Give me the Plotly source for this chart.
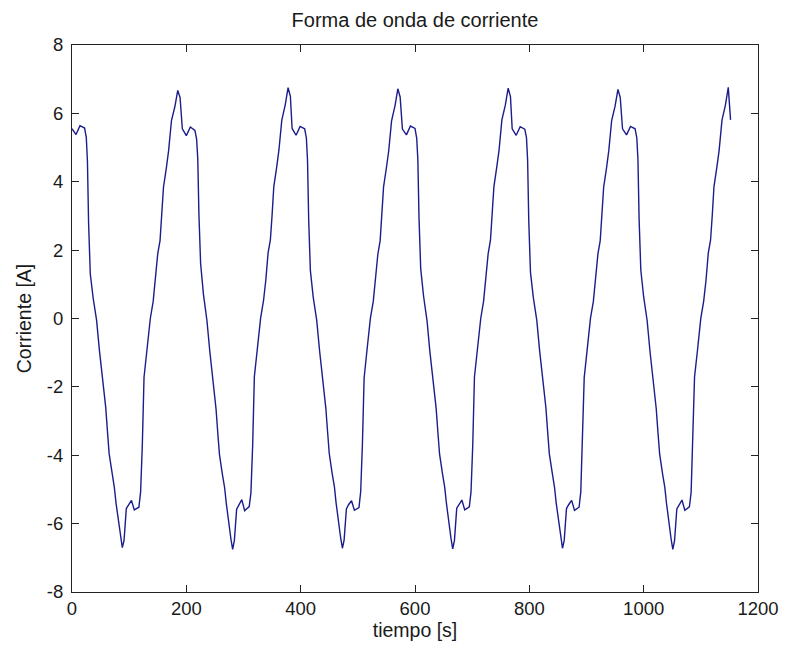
import plotly.graph_objects as go

time_s = [
    0, 7, 14, 22, 25, 27, 29, 32, 37, 43, 48, 54, 59, 62, 65, 70, 74, 77, 80, 85, 88, 91,
    95, 99, 104, 109, 117, 120, 123, 126, 131, 137, 142, 146, 150, 154, 157, 160, 165, 169,
    174, 180, 185, 189,
    193, 200, 207, 215, 218, 220, 222, 225, 230, 236, 241, 247, 252, 255, 258, 263, 267, 270,
    273, 278, 281, 284, 288, 292, 297, 302, 310, 313, 316, 319, 324, 330, 335, 339, 343, 347,
    350, 353, 358, 362, 367, 373, 378, 382,
    385, 392, 399, 407, 410, 412, 414, 417, 422, 428, 433, 439, 444, 447, 450, 455, 459, 462,
    465, 470, 473, 476, 480, 484, 489, 494, 502, 505, 508, 511, 516, 522, 527, 531, 535, 539,
    542, 545, 550, 554, 559, 565, 570, 574,
    578, 585, 592, 600, 603, 605, 607, 610, 615, 621, 626, 632, 637, 640, 643, 648, 652, 655,
    658, 663, 666, 669, 673, 677, 682, 687, 695, 698, 701, 704, 709, 715, 720, 724, 728, 732,
    735, 738, 743, 747, 752, 758, 763, 767,
    770, 777, 784, 792, 795, 797, 799, 802, 807, 813, 818, 824, 829, 832, 835, 840, 844, 847,
    850, 855, 858, 861, 865, 869, 874, 879, 887, 890, 893, 896, 901, 907, 912, 916, 920, 924,
    927, 930, 935, 939, 944, 950, 955, 959,
    963, 970, 977, 985, 988, 990, 992, 995, 1000, 1006, 1011, 1017, 1022, 1025, 1028, 1033,
    1037, 1040, 1043, 1048, 1051, 1054, 1058, 1062, 1067, 1072, 1080, 1083, 1086, 1089, 1094,
    1100, 1105, 1109, 1113, 1117, 1120, 1123, 1128, 1132, 1137, 1143, 1148, 1152,
]

current_a = [
    5.55, 5.38, 5.64, 5.57, 5.30, 4.60, 2.80, 1.30, 0.60, -0.05, -0.94, -1.80, -2.60, -3.30,
    -3.96, -4.50, -4.93, -5.40, -5.80, -6.40, -6.70, -6.50, -5.56, -5.45, -5.32, -5.60, -5.52,
    -5.08, -3.70, -1.72, -0.94, 0.00, 0.50, 1.10, 1.90, 2.28, 3.00, 3.84, 4.40, 4.91, 5.79,
    6.20, 6.67, 6.47,
    5.55, 5.35, 5.60, 5.50, 5.25, 4.67, 3.06, 1.60, 0.70, -0.05, -0.95, -1.85, -2.65, -3.35,
    -3.98, -4.55, -4.95, -5.42, -5.85, -6.45, -6.75, -6.50, -5.58, -5.46, -5.30, -5.62, -5.50,
    -5.10, -3.72, -1.70, -0.95, 0.02, 0.52, 1.12, 1.92, 2.30, 3.02, 3.86, 4.42, 4.93, 5.80,
    6.25, 6.75, 6.50,
    5.56, 5.36, 5.62, 5.55, 5.28, 4.62, 2.90, 1.40, 0.62, -0.04, -0.93, -1.82, -2.62, -3.30,
    -3.95, -4.52, -4.92, -5.40, -5.82, -6.42, -6.72, -6.48, -5.57, -5.44, -5.33, -5.61, -5.53,
    -5.06, -3.68, -1.74, -0.93, 0.01, 0.50, 1.10, 1.88, 2.27, 3.00, 3.85, 4.41, 4.90, 5.78,
    6.22, 6.72, 6.48,
    5.54, 5.37, 5.63, 5.56, 5.27, 4.64, 2.95, 1.45, 0.65, -0.06, -0.96, -1.83, -2.63, -3.32,
    -3.97, -4.53, -4.94, -5.41, -5.83, -6.44, -6.74, -6.49, -5.55, -5.45, -5.31, -5.60, -5.51,
    -5.07, -3.71, -1.71, -0.94, 0.00, 0.51, 1.11, 1.90, 2.29, 3.01, 3.85, 4.43, 4.92, 5.81,
    6.24, 6.74, 6.49,
    5.55, 5.36, 5.61, 5.54, 5.29, 4.63, 2.85, 1.35, 0.61, -0.05, -0.94, -1.81, -2.61, -3.31,
    -3.96, -4.51, -4.93, -5.40, -5.81, -6.41, -6.72, -6.49, -5.56, -5.44, -5.32, -5.61, -5.52,
    -5.08, -3.69, -1.73, -0.94, 0.01, 0.50, 1.10, 1.89, 2.28, 3.00, 3.84, 4.40, 4.91, 5.79,
    6.21, 6.70, 6.47,
    5.55, 5.37, 5.62, 5.55, 5.28, 4.65, 2.92, 1.42, 0.63, -0.05, -0.95, -1.83, -2.64, -3.33,
    -3.97, -4.54, -4.94, -5.41, -5.84, -6.45, -6.75, -6.50, -5.57, -5.45, -5.31, -5.61, -5.51,
    -5.09, -3.70, -1.71, -0.95, 0.01, 0.51, 1.11, 1.91, 2.29, 3.02, 3.86, 4.42, 4.92, 5.80,
    6.24, 6.76, 5.81,
]

x_ticks = [0, 200, 400, 600, 800, 1000, 1200]
y_ticks = [-8, -6, -4, -2, 0, 2, 4, 6, 8]

title_text = "Forma de onda de corriente"
x_label = "tiempo [s]"
y_label = "Corriente [A]"

FONT = "Liberation Sans, Arial, sans-serif"
TEXT_COLOR = "#1a1a1a"

fig = go.Figure(
    go.Scatter(
        x=time_s,
        y=current_a,
        mode="lines",
        line=dict(color="#1c1c8c", width=1.4),
        hoverinfo="x+y",
    )
)

axis_common = dict(
    showgrid=False,
    zeroline=False,
    showline=True,
    linecolor="#222222",
    linewidth=1,
    mirror="allticks",
    ticks="inside",
    ticklen=7,
    tickwidth=1,
    tickcolor="#222222",
    tickfont=dict(family=FONT, size=18.5, color=TEXT_COLOR),
)

# The page body has a default 8px margin, so the figure is sized/offset to compensate
fig.update_layout(
    width=783,
    height=641,
    margin=dict(l=64, r=24, t=37, b=57),
    paper_bgcolor="white",
    plot_bgcolor="white",
    showlegend=False,
    title=dict(
        text=title_text,
        x=0.5,
        xanchor="center",
        xref="paper",
        y=1 - 12 / 641,
        yanchor="middle",
        font=dict(family=FONT, size=20, color=TEXT_COLOR),
    ),
    xaxis=dict(
        range=[0, 1200],
        tickvals=x_ticks,
        ticktext=[str(v) for v in x_ticks],
        title=dict(text=x_label, standoff=4,
                   font=dict(family=FONT, size=19.5, color=TEXT_COLOR)),
        **axis_common,
    ),
    yaxis=dict(
        range=[-8, 8],
        tickvals=y_ticks,
        ticktext=[str(v) for v in y_ticks],
        ticklabelstandoff=4,
        title=dict(text=y_label, standoff=10,
                   font=dict(family=FONT, size=19.5, color=TEXT_COLOR)),
        **axis_common,
    ),
)

fig.write_html("out.html")
